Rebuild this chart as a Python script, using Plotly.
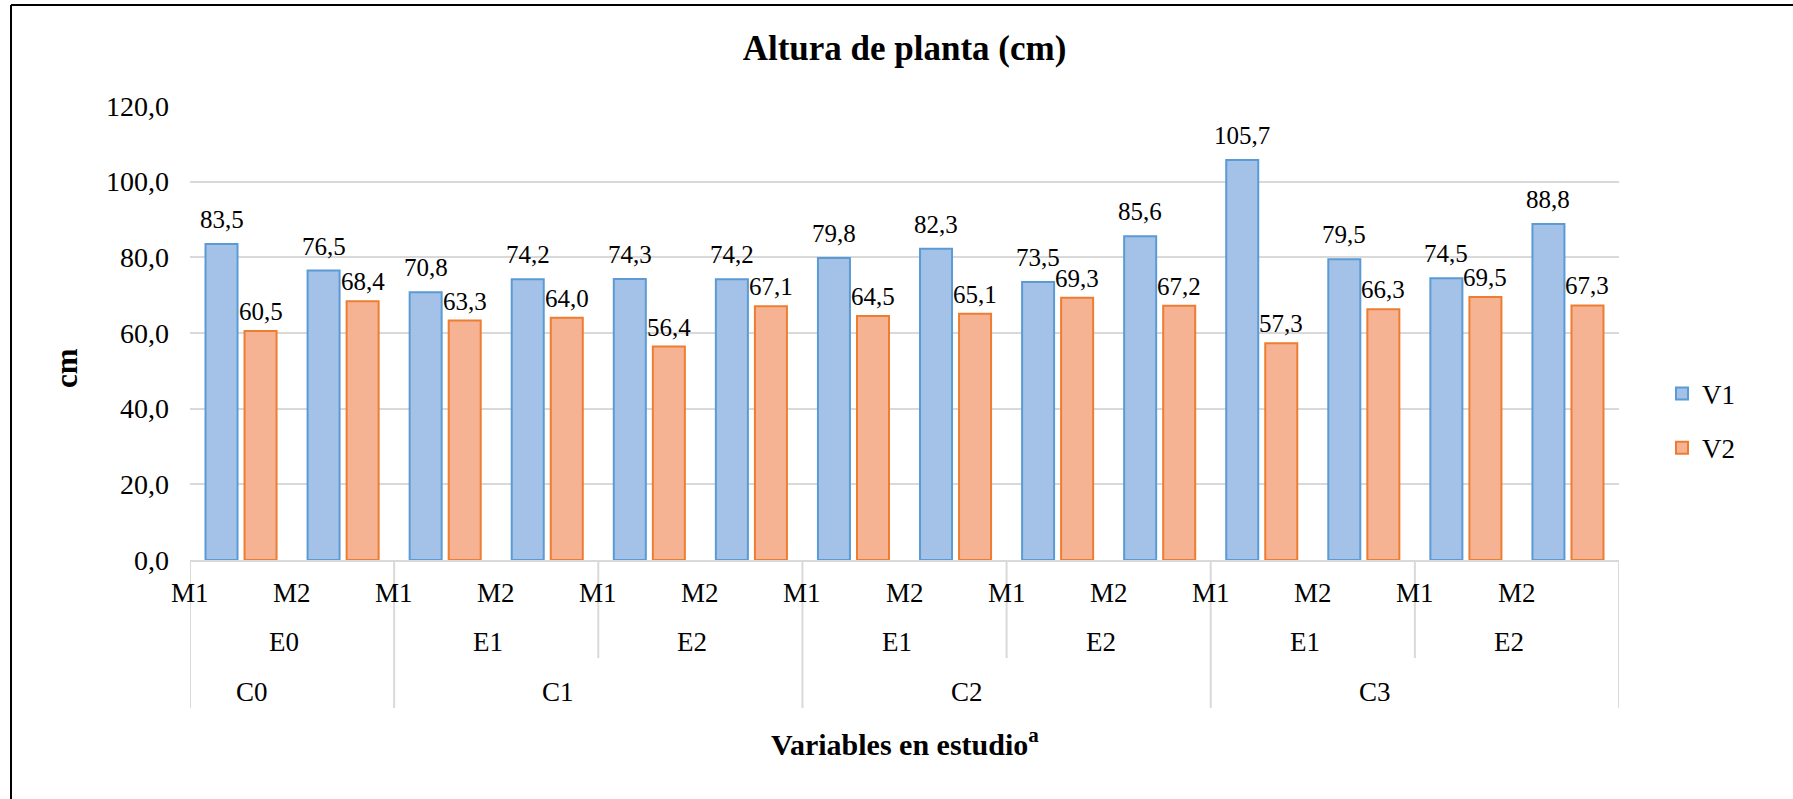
import plotly.graph_objects as go
import numpy as np

# ---------------- data ----------------
m_labels = ["M1", "M2"] * 7
e_labels = ["E0", "E1", "E2", "E1", "E2", "E1", "E2"]      # each spans 2 categories
c_labels = ["C0", "C1", "C2", "C3"]
c_spans = [1, 2, 2, 2]                                      # number of E groups per C group
v1 = [83.5, 76.5, 70.8, 74.2, 74.3, 74.2, 79.8, 82.3, 73.5, 85.6, 105.7, 79.5, 74.5, 88.8]
v2 = [60.5, 68.4, 63.3, 64.0, 56.4, 67.1, 64.5, 65.1, 69.3, 67.2, 57.3, 66.3, 69.5, 67.3]
series_names = ["V1", "V2"]
y_ticks = [0, 20, 40, 60, 80, 100, 120]

# ---------------- layout constants ----------------
W, H = 1793, 799
L, R, T, B = 190, 174, 106, 239
PW, PH = W - L - R, H - T - B
FONT = "Liberation Serif, Times New Roman, serif"
BARGAP, GROUPGAP = 0.235, 0.18
fills = ["#a4c1e7", "#f5b394"]
edges = ["#5b9bd5", "#ed7d31"]
GRID = "#d9d9d9"

def py(pix):  # pixel row -> paper y
    return (H - B - pix) / PH

def px(pix):  # pixel col -> paper x
    return (pix - L) / PW

x = np.arange(len(v1))
fig = go.Figure()
for name, vals, fc, ec in zip(series_names, [v1, v2], fills, edges):
    fig.add_trace(go.Bar(
        x=x, y=vals, name=name, legendgroup=name,
        marker=dict(color=fc, line=dict(color=ec, width=2)),
        hoverinfo="y",
    ))

annotations = []
# data labels
off = (1 - BARGAP) / 4
for k, (vals, sign, ys) in enumerate([(v1, -1, 9), (v2, 1, 4)]):
    for i, v in enumerate(vals):
        annotations.append(dict(
            x=i + sign * off, y=v, xref="x", yref="y", text=f"{v:.1f}".replace(".", ","),
            showarrow=False, yanchor="bottom", xanchor="center", yshift=ys,
            font=dict(family=FONT, size=25, color="#000000")))

# M level labels (Excel draws them shifted half a category to the left)
for i, lab in enumerate(m_labels):
    annotations.append(dict(x=i - 0.5, y=py(593), xref="x", yref="paper", text=lab,
                            showarrow=False, xanchor="center", yanchor="middle",
                            font=dict(family=FONT, size=27, color="#000000")))
# E level labels
for g, lab in enumerate(e_labels):
    annotations.append(dict(x=2 * g + 0.5, y=py(642), xref="x", yref="paper", text=lab,
                            showarrow=False, xanchor="center", yanchor="middle", xshift=-8,
                            font=dict(family=FONT, size=27, color="#000000")))
# C level labels + divider positions
shapes = []
start = 0
c_bounds = [-0.5]
e_inner = []
for lab, span in zip(c_labels, c_spans):
    ncat = 2 * span
    center = start + (ncat - 1) / 2
    annotations.append(dict(x=center, y=py(692), xref="x", yref="paper", text=lab,
                            showarrow=False, xanchor="center", yanchor="middle", xshift=-40,
                            font=dict(family=FONT, size=27, color="#000000")))
    for s in range(1, span):
        e_inner.append(start + 2 * s - 0.5)
    start += ncat
    c_bounds.append(start - 0.5)

for xb in c_bounds:
    shapes.append(dict(type="line", xref="x", yref="paper", x0=xb, x1=xb, y0=0, y1=py(708),
                       line=dict(color=GRID, width=2)))
for xb in e_inner:
    shapes.append(dict(type="line", xref="x", yref="paper", x0=xb, x1=xb, y0=0, y1=py(658),
                       line=dict(color=GRID, width=2)))

# outer frame (left and top edges visible)
shapes.append(dict(type="line", xref="paper", yref="paper", x0=px(11), x1=px(11), y0=py(H + 20), y1=py(5),
                   line=dict(color="#000000", width=2)))
shapes.append(dict(type="line", xref="paper", yref="paper", x0=px(11), x1=px(W + 20), y0=py(5), y1=py(5),
                   line=dict(color="#000000", width=2)))

# axis titles
annotations.append(dict(x=0.5, y=py(742), xref="paper", yref="paper",
                        text="<b>Variables en estudio<sup>a</sup></b>", showarrow=False,
                        xanchor="center", yanchor="middle",
                        font=dict(family=FONT, size=30, color="#000000")))
annotations.append(dict(x=px(66), y=py(368), xref="paper", yref="paper", text="<b>cm</b>",
                        showarrow=False, textangle=-90, xanchor="center", yanchor="middle",
                        font=dict(family=FONT, size=31, color="#000000")))

fig.update_layout(
    width=W, height=H,
    margin=dict(l=L, r=R, t=T, b=B, autoexpand=False),
    paper_bgcolor="white", plot_bgcolor="white",
    separators=",.",
    barmode="group", bargap=BARGAP, bargroupgap=GROUPGAP,
    title=dict(text="<b>Altura de planta (cm)</b>", x=0.5, xref="paper", xanchor="center",
               y=1 - 48 / H, yref="container", yanchor="middle",
               font=dict(family=FONT, size=35, color="#000000")),
    font=dict(family=FONT, color="#000000"),
    xaxis=dict(range=[-0.5, len(v1) - 0.5], showticklabels=False, showgrid=False,
               zeroline=False, showline=True, linecolor=GRID, linewidth=2, ticks=""),
    yaxis=dict(range=[0, 120], tickvals=y_ticks, tickformat=".1f", showgrid=True,
               gridcolor=GRID, gridwidth=2, zeroline=False, showline=False, ticks="",
               ticklabelstandoff=20, tickfont=dict(family=FONT, size=28, color="#000000")),
    legend=dict(x=px(1662), y=py(421), xanchor="left", yanchor="middle",
                xref="paper", yref="paper", traceorder="grouped", tracegroupgap=16,
                font=dict(family=FONT, size=27, color="#000000"), bgcolor="rgba(0,0,0,0)"),
    annotations=annotations, shapes=shapes,
)

fig.write_html("out.html", config={"displayModeBar": False},
               post_script="document.body.style.margin='0';")
